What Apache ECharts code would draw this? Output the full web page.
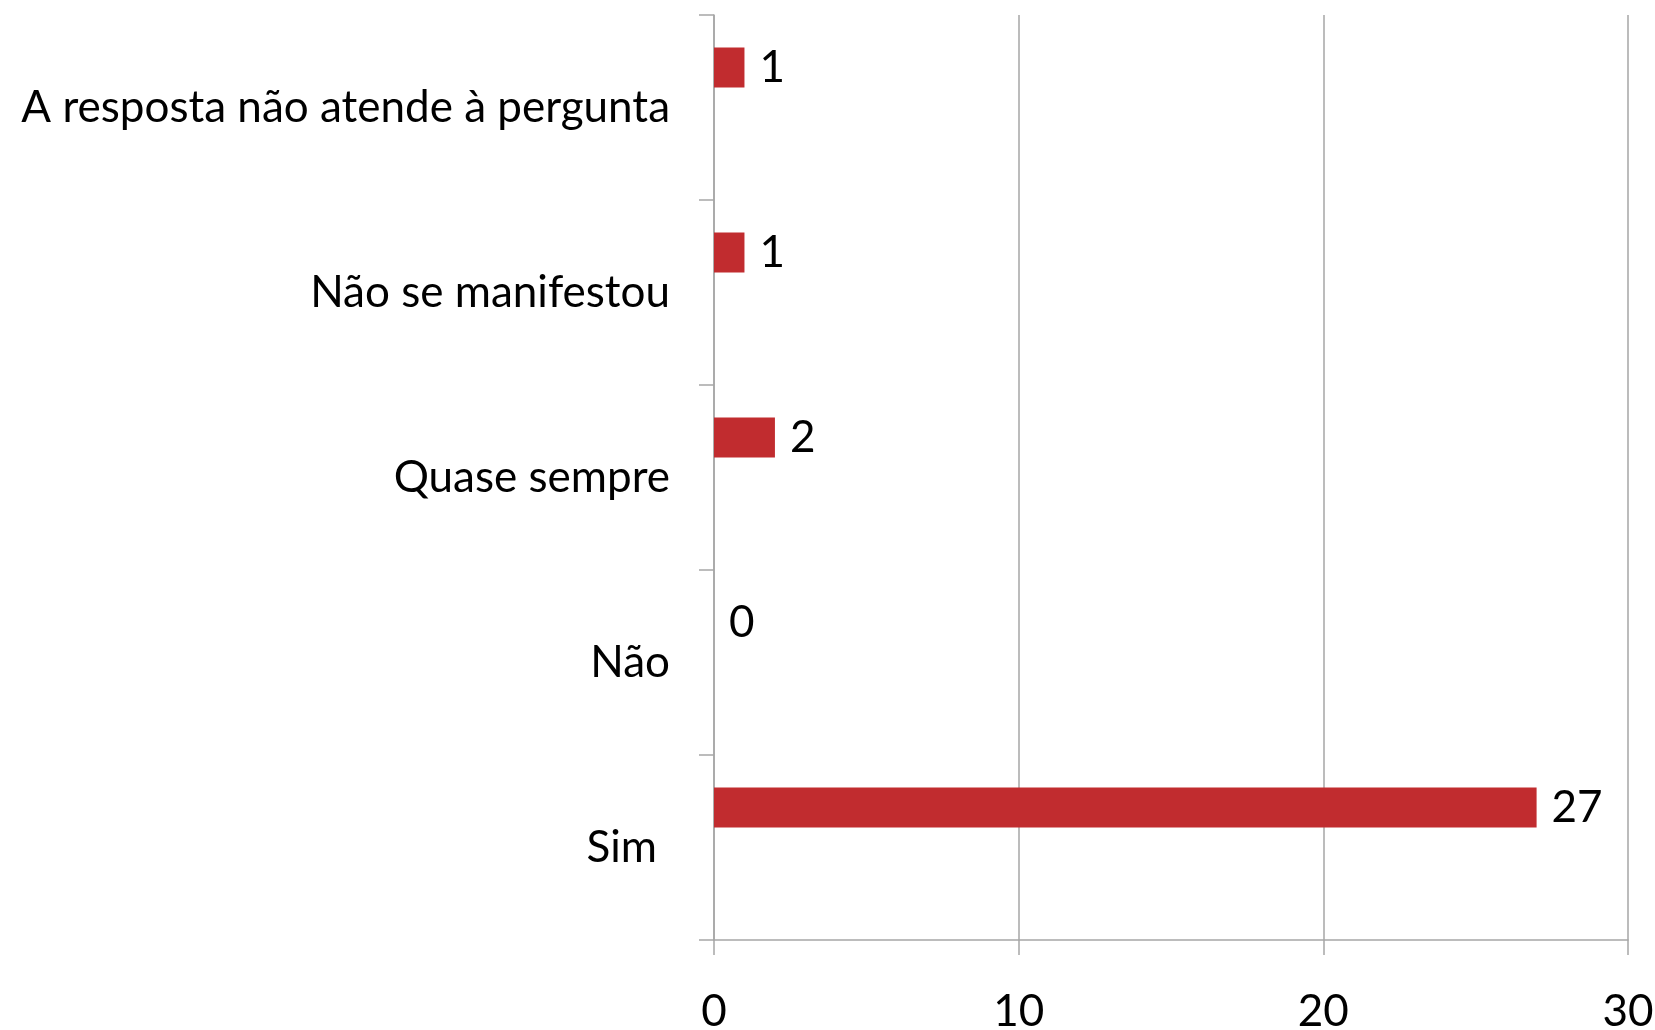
<!DOCTYPE html>
<html>
<head>
<meta charset="utf-8">
<script src="https://cdn.jsdelivr.net/npm/echarts@6/dist/echarts.min.js"></script>
<style>
  html, body { margin: 0; padding: 0; background: #fff; }
  #chart { width: 1655px; height: 1030px; }
</style>
</head>
<body>
<div id="chart"></div>
<script>
// categorias de baixo para cima, como no eixo
const categories = ['Sim', 'Não', 'Quase sempre', 'Não se manifestou', 'A resposta não atende à pergunta'];
const respostas = [27, 0, 2, 1, 1];
const xTicks = [0, 10, 20, 30];

const chart = echarts.init(document.getElementById('chart'));
const fontFamily = 'Lato, "Open Sans", sans-serif';

// no original o rótulo "Sim" fica um pouco mais afastado do eixo
const yData = categories.map((name) => {
  return name === 'Sim'
    ? { value: name, textStyle: { padding: [0, 13, 0, 0] } }
    : name;
});

const option = {
  animation: false,
  textStyle: { fontFamily: fontFamily },
  grid: {
    left: 714, right: 27, top: 15, bottom: 90,
    containLabel: false,
    outerBoundsMode: 'none'
  },
  xAxis: {
    type: 'value',
    min: xTicks[0],
    max: xTicks[xTicks.length - 1],
    interval: 10,
    axisLine: { show: true, lineStyle: { color: '#A6A6A6', width: 1.5 } },
    axisTick: { show: true, length: 15, lineStyle: { color: '#A6A6A6', width: 1.5 } },
    splitLine: { show: true, lineStyle: { color: '#A6A6A6', width: 1.5 } },
    axisLabel: { color: '#000', fontSize: 44, margin: 50, fontFamily: fontFamily }
  },
  yAxis: {
    type: 'category',
    data: yData,
    axisLine: { show: true, lineStyle: { color: '#A6A6A6', width: 1.5 } },
    axisTick: { show: true, length: 15, alignWithLabel: false, lineStyle: { color: '#A6A6A6', width: 1.5 } },
    axisLabel: { color: '#000', fontSize: 44, margin: 44, fontFamily: fontFamily }
  },
  series: [
    {
      type: 'bar',
      data: respostas,
      barWidth: 40,
      barGap: '100%',
      itemStyle: { color: '#C12C2F' },
      label: {
        show: true,
        position: 'right',
        distance: 15,
        color: '#000',
        fontSize: 44,
        fontFamily: fontFamily
      }
    },
    {
      // série vazia, só para deslocar a barra para cima como no original
      type: 'bar',
      data: categories.map(() => null),
      barWidth: 40,
      barGap: '100%',
      silent: true
    }
  ]
};

chart.setOption(option);
</script>
</body>
</html>
